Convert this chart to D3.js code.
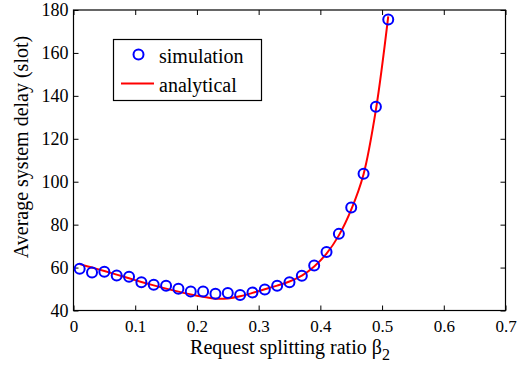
<!DOCTYPE html>
<html>
<head>
<meta charset="utf-8">
<script src="https://cdn.jsdelivr.net/npm/d3@7"></script>
</head>
<body style="margin:0">
<svg id="chart" width="526" height="369" font-family="Liberation Serif">
  <text id="xlabel" x="290" y="354" text-anchor="middle" font-family="Liberation Serif" font-size="20">Request splitting ratio β<tspan font-size="16" dy="6">2</tspan></text>
  <text id="ylabel" transform="translate(28,147) rotate(-90)" text-anchor="middle" font-family="Liberation Serif" font-size="20">Average system delay (slot)</text>
</svg>
<script>
// ── data ───────────────────────────────────────────────────────────────────
const betaSim = [0.01, 0.03, 0.05, 0.07, 0.09, 0.11, 0.13, 0.15, 0.17, 0.19, 0.21, 0.23, 0.25,
                 0.27, 0.29, 0.31, 0.33, 0.35, 0.37, 0.39, 0.41, 0.43, 0.45, 0.47, 0.49, 0.51];
const delaySim = [59.4, 57.7, 58.0, 56.3, 55.7, 53.2, 52.0, 51.5, 50.1, 48.9, 48.9, 47.8, 48.1,
                  47.2, 48.4, 49.8, 51.5, 53.2, 56.2, 61.0, 67.3, 75.7, 88.0, 103.7, 134.9, 175.6];

const betaAna = betaSim;
const delayAna = [61.6, 60.0, 58.4, 56.7, 55.0, 53.3, 51.7, 50.2, 48.8, 47.5, 46.4, 45.5, 45.6,
                  46.6, 48.2, 49.9, 51.6, 53.5, 56.2, 60.5, 66.5, 75.0, 87.0, 103.5, 133.5, 177.0];

const xTicks = [0, 0.1, 0.2, 0.3, 0.4, 0.5, 0.6, 0.7];
const yTicks = [40, 60, 80, 100, 120, 140, 160, 180];
const legendLabels = ['simulation', 'analytical'];

// ── layout ────────────────────────────────────────────────────────────────
// d3.axis stamps font-family="sans-serif" on its group; replace it on every axis
const FONT = 'Liberation Serif';
const plot = { left: 73.5, right: 505.5, top: 10, bottom: 310.5 };
const svg = d3.select('#chart');

const x = d3.scaleLinear().domain([0, 0.7]).range([plot.left, plot.right]);
const y = d3.scaleLinear().domain([40, 180]).range([plot.bottom, plot.top]);

const TICK = 5;

function tidy(g, size) {
  g.attr('font-family', FONT).attr('font-size', size);
  g.select('.domain').remove();
  g.selectAll('text').attr('font-family', FONT).attr('fill', '#000');
}

// box
svg.append('rect')
  .attr('x', plot.left).attr('y', plot.top)
  .attr('width', plot.right - plot.left).attr('height', plot.bottom - plot.top)
  .attr('fill', 'none').attr('stroke', '#000').attr('stroke-width', 1.2);

// bottom axis (ticks inward)
svg.append('g')
  .attr('transform', `translate(0,${plot.bottom})`)
  .call(d3.axisBottom(x).tickValues(xTicks).tickSizeInner(-TICK).tickSizeOuter(0)
    .tickPadding(9).tickFormat(d => d === 0 ? '0' : d3.format('.1f')(d)))
  .call(g => tidy(g, 17));

// top ticks
svg.append('g')
  .attr('transform', `translate(0,${plot.top})`)
  .call(d3.axisTop(x).tickValues(xTicks).tickSizeInner(-TICK).tickSizeOuter(0).tickFormat(''))
  .call(g => tidy(g, 17));

// left axis
svg.append('g')
  .attr('transform', `translate(${plot.left},0)`)
  .call(d3.axisLeft(y).tickValues(yTicks).tickSizeInner(-TICK).tickSizeOuter(0).tickPadding(5))
  .call(g => tidy(g, 18));

// right ticks
svg.append('g')
  .attr('transform', `translate(${plot.right},0)`)
  .call(d3.axisRight(y).tickValues(yTicks).tickSizeInner(-TICK).tickSizeOuter(0).tickFormat(''))
  .call(g => tidy(g, 18));

// analytical curve
const line = d3.line()
  .x((d, i) => x(betaAna[i]))
  .y(d => y(d))
  .curve(d3.curveCatmullRom.alpha(0.5));

svg.append('path')
  .datum(delayAna)
  .attr('d', line)
  .attr('fill', 'none')
  .attr('stroke', '#ff0000')
  .attr('stroke-width', 2);

// simulation markers
svg.append('g')
  .selectAll('circle')
  .data(delaySim)
  .join('circle')
  .attr('cx', (d, i) => x(betaSim[i]))
  .attr('cy', d => y(d))
  .attr('r', 5)
  .attr('fill', 'none')
  .attr('stroke', '#0000ff')
  .attr('stroke-width', 2);

// legend
const legend = svg.append('g');
legend.append('rect')
  .attr('x', 113.5).attr('y', 39.5)
  .attr('width', 148).attr('height', 61)
  .attr('fill', '#fff').attr('stroke', '#000').attr('stroke-width', 1.2);

legend.append('circle')
  .attr('cx', 138.5).attr('cy', 54.5).attr('r', 5)
  .attr('fill', 'none').attr('stroke', '#0000ff').attr('stroke-width', 2);
legend.append('line')
  .attr('x1', 121).attr('x2', 154).attr('y1', 83.5).attr('y2', 83.5)
  .attr('stroke', '#ff0000').attr('stroke-width', 2);

legend.selectAll('text.lab')
  .data(legendLabels)
  .join('text')
  .attr('class', 'lab')
  .attr('x', 159)
  .attr('y', (d, i) => 63 + i * 29)
  .attr('font-family', FONT)
  .attr('font-size', 20)
  .text(d => d);
</script>
</body>
</html>
